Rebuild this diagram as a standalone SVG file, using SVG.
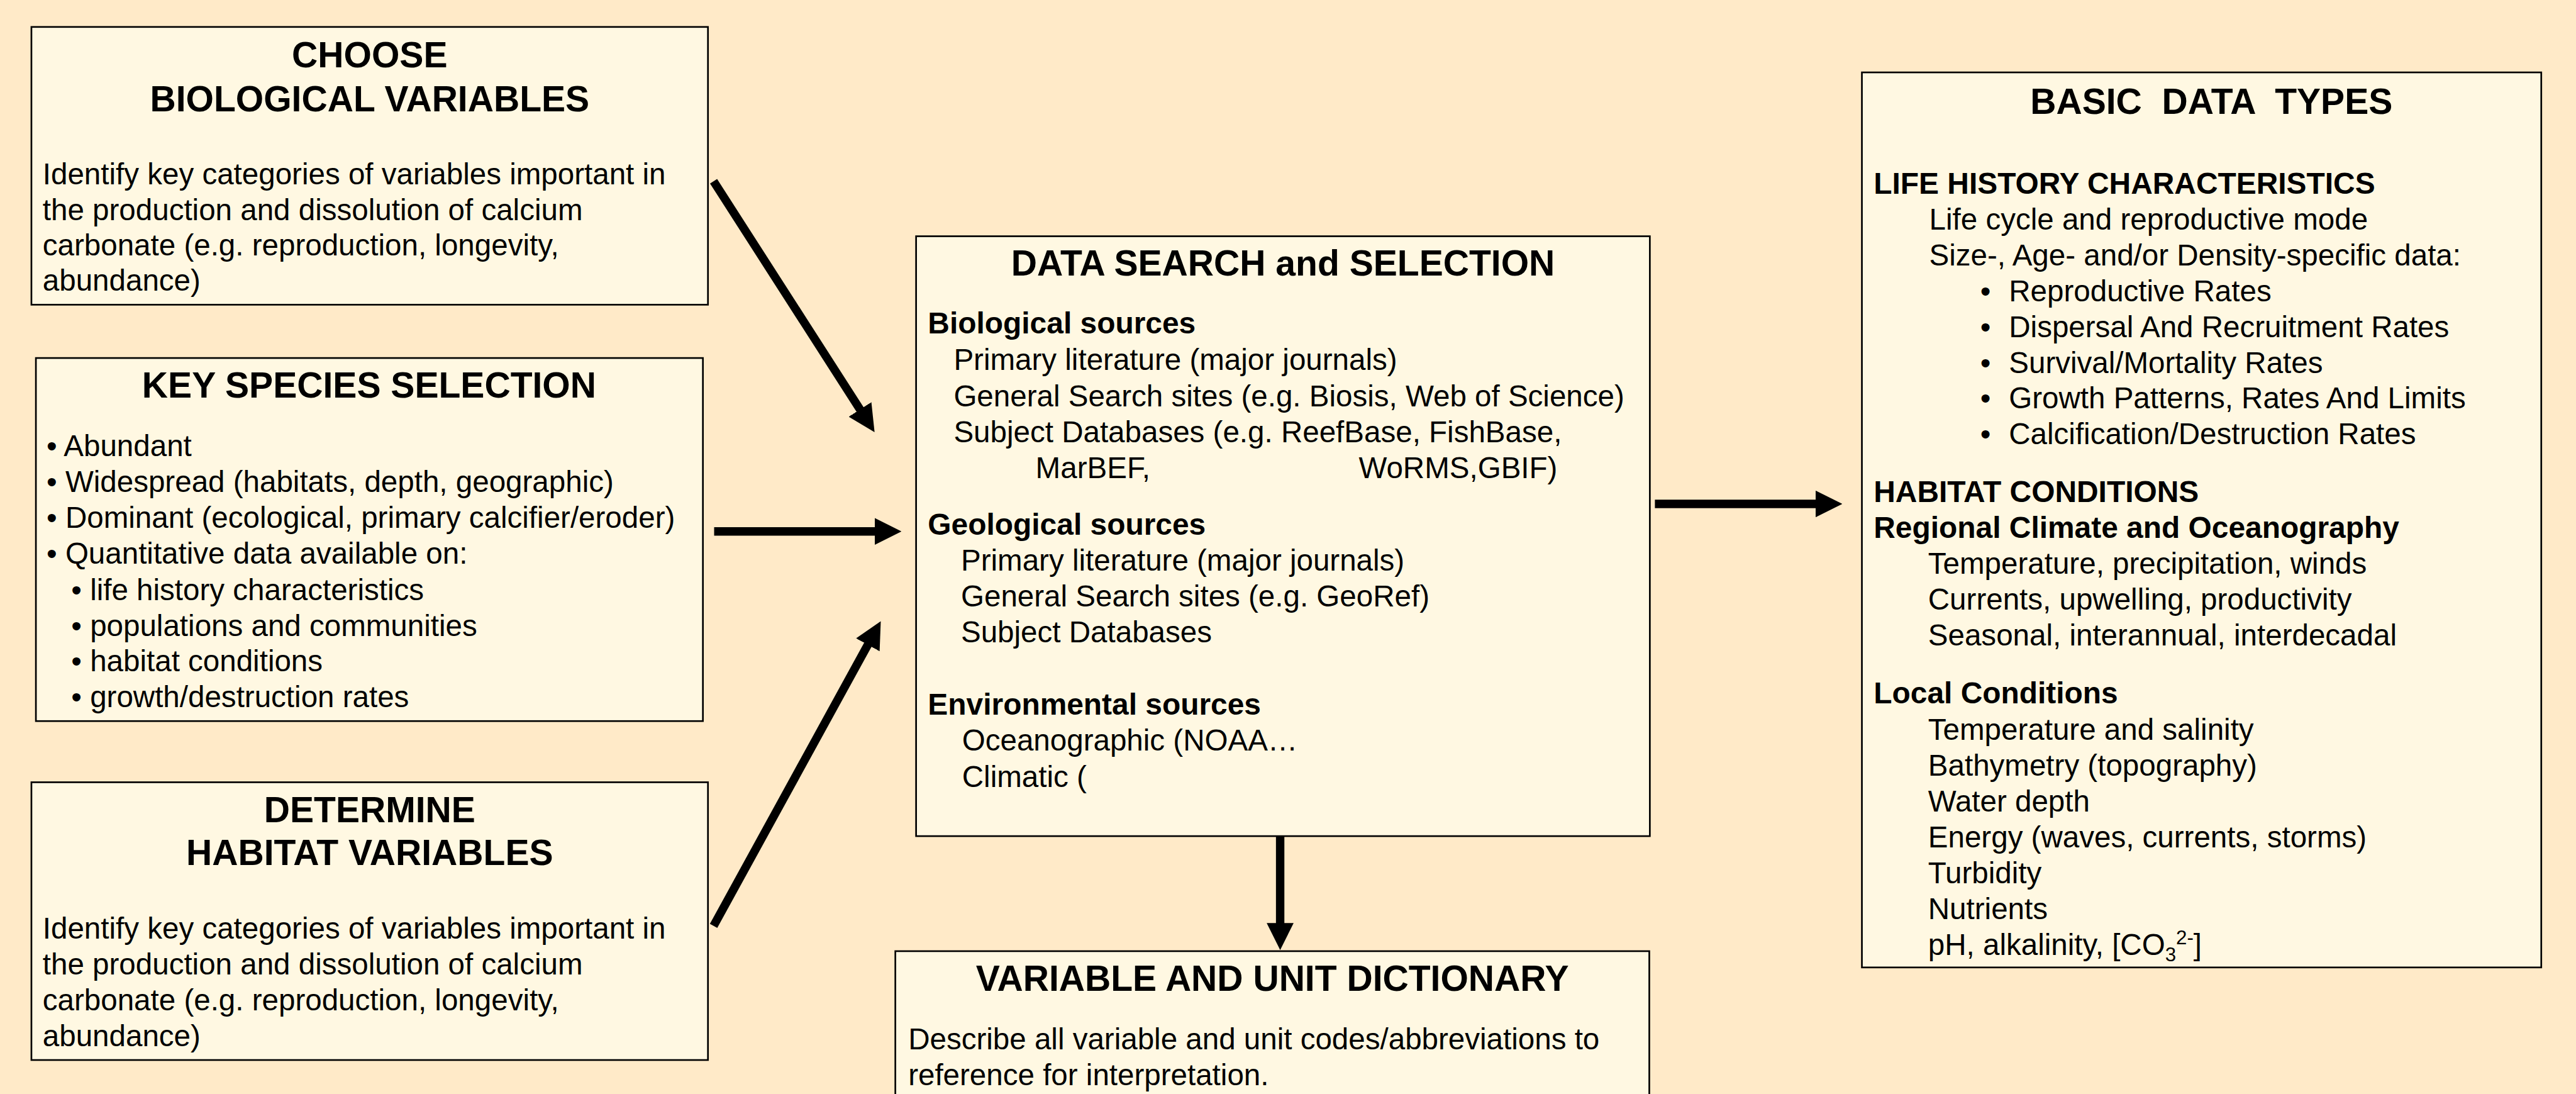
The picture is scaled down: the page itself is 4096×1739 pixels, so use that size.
<svg xmlns="http://www.w3.org/2000/svg" width="4096" height="1739" viewBox="0 0 4096 1739">
<style>
.box{fill:#FFF8E2;stroke:#000;stroke-width:3}
text{font-family:"Liberation Sans",Arial,Helvetica,sans-serif;fill:#000}
.t{font-size:64px;font-weight:bold;text-anchor:middle}
.h{font-size:53.7px;font-weight:bold}
.b{font-size:53.3px}
.s{font-size:35px}
.conn{stroke:#000;stroke-width:15;fill:none;marker-end:url(#ah)}
</style>
<defs>
<marker id="ah" markerUnits="userSpaceOnUse" viewBox="0 0 48 48" markerWidth="48" markerHeight="48" refX="18" refY="24" orient="auto">
<path d="M0,0 L48,24 L0,48 Z" fill="#000"/>
</marker>
</defs>
<rect x="0" y="0" width="4096" height="1739" fill="#FFEAC8"/>
<g transform="scale(0.892)">
<g id="choose-biological">
<rect class="box" x="56" y="48" width="1206" height="495"/>
<text class="t" x="659" y="120">CHOOSE</text>
<text class="t" x="659" y="198">BIOLOGICAL VARIABLES</text>
<text class="b" x="76" y="328">Identify key categories of variables important in</text>
<text class="b" x="76" y="392">the production and dissolution of calcium</text>
<text class="b" x="76" y="455">carbonate (e.g. reproduction, longevity,</text>
<text class="b" x="76" y="518">abundance)</text>
</g>
<g id="key-species">
<rect class="box" x="64" y="638" width="1189" height="647"/>
<text class="t" x="658" y="709">KEY SPECIES SELECTION</text>
<text class="b" x="83" y="813">• Abundant</text>
<text class="b" x="83" y="877">• Widespread (habitats, depth, geographic)</text>
<text class="b" x="83" y="941">• Dominant (ecological, primary calcifier/eroder)</text>
<text class="b" x="83" y="1005">• Quantitative data available on:</text>
<text class="b" x="127" y="1069">• life history characteristics</text>
<text class="b" x="127" y="1133">• populations and communities</text>
<text class="b" x="127" y="1196">• habitat conditions</text>
<text class="b" x="127" y="1260">• growth/destruction rates</text>
</g>
<g id="determine-habitat">
<rect class="box" x="56" y="1394" width="1206" height="495"/>
<text class="t" x="659" y="1465">DETERMINE</text>
<text class="t" x="659" y="1542">HABITAT VARIABLES</text>
<text class="b" x="76" y="1673">Identify key categories of variables important in</text>
<text class="b" x="76" y="1737">the production and dissolution of calcium</text>
<text class="b" x="76" y="1800">carbonate (e.g. reproduction, longevity,</text>
<text class="b" x="76" y="1864">abundance)</text>
</g>
<g id="data-search">
<rect class="box" x="1633" y="421" width="1308" height="1069"/>
<text class="t" x="2287" y="491">DATA SEARCH and SELECTION</text>
<text class="h" x="1654" y="594">Biological sources</text>
<text class="b" x="1700" y="659">Primary literature (major journals)</text>
<text class="b" x="1700" y="724">General Search sites (e.g. Biosis, Web of Science)</text>
<text class="b" x="1700" y="788">Subject Databases (e.g. ReefBase, FishBase,</text>
<text class="b" y="852"><tspan x="1846">MarBEF,</tspan><tspan x="2422">WoRMS,GBIF)</tspan></text>
<text class="h" x="1654" y="953">Geological sources</text>
<text class="b" x="1713" y="1017">Primary literature (major journals)</text>
<text class="b" x="1713" y="1081">General Search sites (e.g. GeoRef)</text>
<text class="b" x="1713" y="1145">Subject Databases</text>
<text class="h" x="1654" y="1274">Environmental sources</text>
<text class="b" x="1715" y="1338">Oceanographic (NOAA…</text>
<text class="b" x="1715" y="1402">Climatic (</text>
</g>
<g id="dictionary">
<rect class="box" x="1596" y="1695" width="1344" height="300"/>
<text class="t" x="2268" y="1766">VARIABLE AND UNIT DICTIONARY</text>
<text class="b" x="1619" y="1870">Describe all variable and unit codes/abbreviations to</text>
<text class="b" x="1619" y="1934">reference for interpretation.</text>
</g>
<g id="basic-data-types">
<rect class="box" x="3319" y="129" width="1211" height="1595"/>
<text class="t" x="3942" y="203" xml:space="preserve">BASIC  DATA  TYPES</text>
<text class="h" x="3340" y="345">LIFE HISTORY CHARACTERISTICS</text>
<text class="b" x="3439" y="409">Life cycle and reproductive mode</text>
<text class="b" x="3439" y="473">Size-, Age- and/or Density-specific data:</text>
<text class="b" y="537"><tspan x="3530">•</tspan><tspan x="3581">Reproductive Rates</tspan></text>
<text class="b" y="601"><tspan x="3530">•</tspan><tspan x="3581">Dispersal And Recruitment Rates</tspan></text>
<text class="b" y="665"><tspan x="3530">•</tspan><tspan x="3581">Survival/Mortality Rates</tspan></text>
<text class="b" y="728"><tspan x="3530">•</tspan><tspan x="3581">Growth Patterns, Rates And Limits</tspan></text>
<text class="b" y="792"><tspan x="3530">•</tspan><tspan x="3581">Calcification/Destruction Rates</tspan></text>
<text class="h" x="3340" y="895">HABITAT CONDITIONS</text>
<text class="h" x="3340" y="959">Regional Climate and Oceanography</text>
<text class="b" x="3437" y="1022">Temperature, precipitation, winds</text>
<text class="b" x="3437" y="1086">Currents, upwelling, productivity</text>
<text class="b" x="3437" y="1150">Seasonal, interannual, interdecadal</text>
<text class="h" x="3340" y="1253">Local Conditions</text>
<text class="b" x="3437" y="1318">Temperature and salinity</text>
<text class="b" x="3437" y="1382">Bathymetry (topography)</text>
<text class="b" x="3437" y="1446">Water depth</text>
<text class="b" x="3437" y="1510">Energy (waves, currents, storms)</text>
<text class="b" x="3437" y="1574">Turbidity</text>
<text class="b" x="3437" y="1638">Nutrients</text>
<text class="b" x="3437" y="1702">pH, alkalinity, [CO<tspan class="s" dy="11">3</tspan><tspan class="s" dy="-30">2-</tspan><tspan dy="19">]</tspan></text>
</g>
<g id="connectors">
<line class="conn" x1="1272" y1="323" x2="1542.8" y2="744.8"/>
<line class="conn" x1="1273" y1="947" x2="1577" y2="947"/>
<line class="conn" x1="1272" y1="1650" x2="1555.6" y2="1133.3"/>
<line class="conn" x1="2950" y1="898" x2="3254" y2="898"/>
<line class="conn" x1="2282" y1="1490" x2="2282" y2="1663"/>
</g>
</g>
</svg>
